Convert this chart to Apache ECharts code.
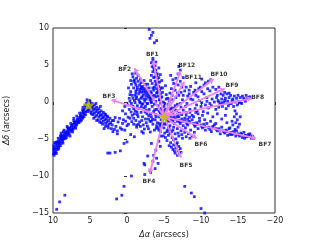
<!DOCTYPE html>
<html><head><meta charset="utf-8">
<script src="https://cdn.jsdelivr.net/npm/echarts@6/dist/echarts.min.js"></script>
<style>html,body{margin:0;padding:0;background:#fff}#c{width:320px;height:240px}</style>
</head><body><div id="c"></div>
<script>
const xTicks = [10, 5, 0, -5, -10, -15, -20];
const yTicks = [-15, -10, -5, 0, 5, 10];

const leftArm = [[9.9,-6.6],[9.8,-6.2],[9.9,-5.9],[9.7,-6.4],[9.6,-5.8],[9.5,-6.1],[9.4,-5.6],[9.3,-5.3],[9.5,-5.4],[9.2,-5.7],[9.1,-5.0],[9.0,-5.3],[8.9,-4.8],[8.8,-5.1],[8.7,-4.6],[8.6,-4.9],[8.5,-4.3],[8.4,-4.6],[8.3,-4.1],[8.2,-4.4],[8.1,-3.9],[8.0,-4.2],[7.9,-3.7],[7.8,-4.0],[7.7,-3.5],[7.6,-3.8],[7.5,-3.3],[7.4,-3.6],[7.3,-3.0],[7.2,-3.4],[7.1,-2.8],[7.0,-3.1],[6.9,-2.6],[6.8,-2.9],[6.7,-2.3],[6.6,-2.7],[6.5,-2.1],[6.4,-2.4],[6.3,-1.8],[6.2,-2.1],[6.1,-1.5],[6.0,-1.9],[5.9,-1.2],[5.8,-1.6],[5.7,-0.9],[5.6,-1.3],[5.5,-0.6],[5.4,-1.0],[5.3,0.0],[5.1,0.2],[5.5,-0.2],[9.8,-6.9],[9.6,-6.7],[8.9,-4.5],[8.0,-3.5],[7.2,-2.5],[9.0,-5.9],[8.3,-4.9],[7.7,-4.6],[9.95,-7.0]];
const leftArm2 = [[9.7,-6.9],[9.4,-6.4],[9.2,-6.1],[8.9,-5.6],[8.7,-5.3],[8.5,-5.0],[8.2,-4.8],[8.0,-4.5],[7.8,-4.3],[7.5,-3.9],[7.3,-3.7],[7.0,-3.4],[6.8,-3.1],[6.5,-2.8],[6.3,-2.6],[6.0,-2.2],[5.8,-2.0],[5.6,-1.7],[5.3,-1.3],[9.9,-6.3],[9.6,-5.5],[9.3,-4.9],[8.9,-4.2],[8.5,-3.8],[8.1,-3.3],[7.6,-2.9],[7.2,-2.2],[6.8,-1.9],[6.4,-1.5],[6.0,-1.1],[5.7,-0.5],[5.4,0.3],[5.0,0.1],[9.0,-4.6],[9.8,-5.5],[8.6,-4.0]];
const leftArm3 = [[9.85,-7.2],[9.55,-6.95],[9.35,-5.95],[9.15,-5.45],[8.75,-4.95],[8.45,-4.55],[8.15,-4.15],[7.85,-3.55],[7.45,-3.15],[7.05,-2.75],[6.65,-2.45],[6.25,-1.95],[5.85,-1.45],[5.55,-1.15],[6.95,-3.55],[7.35,-4.05],[8.65,-5.55],[9.25,-6.35],[6.15,-2.45],[5.95,-0.75]];
const leftBlob = [[5.0,-0.5],[4.8,-0.8],[4.9,-0.3],[4.6,-0.6],[4.5,-1.0],[4.7,-1.2],[4.3,-0.9],[4.2,-1.3],[4.4,-1.5],[4.0,-1.1],[3.9,-1.5],[4.1,-1.8],[3.7,-1.4],[3.6,-1.8],[3.8,-2.0],[3.4,-1.7],[3.3,-2.1],[3.5,-2.3],[3.1,-2.0],[3.0,-2.4],[3.2,-2.6],[2.8,-2.3],[2.7,-2.7],[2.9,-2.9],[2.5,-2.5],[2.4,-3.0],[2.6,-3.2],[2.2,-2.8],[2.0,-3.1],[5.2,-0.9],[4.9,-1.4],[4.6,-1.7],[4.3,-2.0],[3.9,-2.4],[3.5,-2.8],[3.0,-1.6],[2.7,-1.9],[1.8,-2.5],[1.5,-3.3],[1.2,-2.7],[0.9,-3.5],[0.6,-2.9],[0.3,-3.8],[1.7,-3.7],[0.0,-3.2],[2.1,-3.6]];
const leftBlob2 = [[4.7,-0.2],[4.4,-0.4],[4.1,-0.7],[3.8,-0.9],[3.5,-1.2],[3.2,-1.4],[2.9,-1.7],[2.6,-2.0],[2.3,-2.2],[2.0,-2.5],[4.8,-1.6],[4.5,-2.2],[4.1,-2.5],[3.7,-2.7],[3.3,-3.0],[2.9,-3.3],[2.5,-3.5],[5.1,-1.1],[4.2,-0.2],[3.6,-0.6],[1.6,-2.1],[1.0,-2.2],[0.7,-3.7],[1.3,-3.9],[1.9,-4.0],[0.2,-2.6],[3.1,-3.6]];
const bf2Cluster = [[-0.8,3.4],[-1.0,3.0],[-1.3,3.2],[-1.1,2.6],[-1.5,2.8],[-1.7,2.3],[-1.4,2.0],[-1.9,2.6],[-2.1,2.1],[-1.8,1.7],[-2.3,1.8],[-2.0,1.3],[-2.5,1.5],[-2.7,1.1],[-2.2,0.9],[-2.9,0.7],[-2.6,0.4],[-3.1,0.3],[-2.4,0.1],[-3.3,-0.1],[-1.2,1.5],[-0.9,1.9],[-1.6,1.1],[-1.3,0.7],[-0.7,0.9],[-1.9,0.5],[-1.0,0.2],[-0.5,1.4],[-2.8,2.4],[-3.0,1.9],[-3.2,1.4],[-0.6,2.4],[-1.5,3.6],[-2.3,2.9],[-3.4,0.8],[-0.3,0.5],[-0.1,-0.4],[-0.6,-0.2],[-1.4,-0.5],[-2.0,-0.3]];
const bf2Cluster2 = [[-0.9,2.8],[-1.2,2.3],[-1.4,1.7],[-1.7,1.4],[-2.0,1.8],[-2.2,1.5],[-2.4,1.2],[-2.6,0.8],[-2.8,1.4],[-2.0,0.7],[-1.6,0.3],[-1.1,0.9],[-0.8,0.5],[-0.4,1.0],[-0.2,1.9],[-0.5,2.9],[-1.8,3.1],[-2.5,2.4],[-3.0,1.0],[-3.2,0.5],[-2.7,-0.2],[-1.8,-0.1],[-1.2,1.2],[-1.9,2.0],[-2.6,1.9],[-3.5,1.9],[-0.7,3.8],[-1.1,3.9]];
const bf1Streak = [[-3.5,5.6],[-3.6,5.2],[-3.4,4.8],[-3.8,4.9],[-3.7,4.4],[-3.5,4.1],[-3.9,3.9],[-4.0,3.5],[-3.6,3.3],[-4.1,3.1],[-3.8,2.8],[-4.2,2.6],[-3.9,2.3],[-4.3,2.1],[-4.0,1.8],[-4.4,1.6],[-4.1,1.3],[-4.5,1.1],[-4.2,0.8],[-4.6,0.6],[-3.3,3.6],[-3.4,2.5],[-3.6,1.6],[-3.7,0.9],[-4.7,2.9],[-4.8,1.9],[-4.5,3.7],[-3.9,5.4],[-4.3,4.6],[-3.3,1.2],[-3.5,0.4]];
const bf1Streak2 = [[-3.6,4.6],[-3.9,4.3],[-4.1,3.8],[-3.8,3.4],[-4.3,3.3],[-4.0,2.5],[-4.4,2.7],[-3.7,2.0],[-4.6,1.9],[-4.2,1.5],[-4.8,1.3],[-4.4,0.3],[-3.9,0.7],[-3.2,2.9],[-3.5,5.9],[-3.3,5.3]];
const topSparse = [[-3.0,9.8],[-3.5,9.4],[-3.3,9.0],[-3.1,8.6],[-4.0,8.3],[-3.7,8.0]];
const nneStreaks = [[-5.5,0.5],[-5.8,1.2],[-6.0,1.8],[-6.3,2.5],[-6.6,3.2],[-6.9,3.8],[-7.2,4.3],[-5.7,0.0],[-6.1,0.9],[-6.5,1.6],[-6.9,2.3],[-7.2,2.8],[-7.6,3.3],[-5.3,1.0],[-6.2,3.0],[-7.0,4.8],[-6.8,1.2],[-7.4,2.0],[-5.2,2.2],[-5.9,3.6]];
const neStreaks = [[-6.0,-0.8],[-6.8,-0.3],[-7.5,0.3],[-8.2,0.8],[-9.0,1.3],[-9.7,1.8],[-10.4,2.3],[-11.0,2.8],[-6.5,-1.1],[-7.3,-0.7],[-8.1,-0.2],[-8.9,0.3],[-9.6,0.7],[-10.4,1.1],[-11.2,1.5],[-12.0,1.7],[-7.8,1.5],[-8.6,2.1],[-9.3,2.6],[-10.1,3.1],[-6.2,0.3],[-7.0,0.9],[-8.4,1.6],[-9.8,0.2],[-10.8,0.6]];
const neStreaks2 = [[-7.6,0.9],[-8.4,1.1],[-9.2,1.6],[-9.9,2.0],[-10.6,2.6],[-11.3,3.0],[-8.6,0.4],[-9.3,0.9],[-10.1,1.4],[-10.9,1.8],[-11.6,2.0],[-12.4,2.0],[-7.3,1.3],[-8.0,2.0]];
const bf8Band = [[-8.5,-1.0],[-9.2,-0.9],[-10.0,-0.6],[-10.6,-0.4],[-11.2,-0.2],[-11.8,0.0],[-12.3,0.2],[-12.8,0.4],[-13.3,0.5],[-13.8,0.6],[-14.3,0.4],[-14.8,0.5],[-15.3,0.6],[-15.8,0.5],[-16.3,0.6],[-12.6,-0.3],[-13.1,-0.1],[-13.6,0.1],[-14.1,-0.2],[-14.6,0.0],[-15.1,0.1],[-13.0,0.9],[-13.5,1.1],[-14.0,0.9],[-12.1,0.6],[-11.5,0.4],[-12.9,-0.6],[-13.7,-0.5],[-14.4,-0.6],[-15.5,-0.2],[-16.0,0.1],[-11.0,-0.8],[-12.0,-1.0],[-10.3,-1.3],[-9.6,-1.6],[-12.4,-0.7],[-14.9,-0.4],[-13.4,-0.9]];
const bf8Band2 = [[-12.2,0.9],[-12.7,1.1],[-13.2,1.3],[-13.8,1.2],[-14.5,0.8],[-15.0,0.9],[-15.6,0.8],[-16.1,0.9],[-16.6,0.7],[-12.4,0.0],[-13.9,-0.2],[-14.2,0.2],[-15.3,-0.1],[-15.8,0.3],[-11.4,-0.5],[-10.8,0.1],[-10.1,-0.1],[-9.4,-0.4],[-13.2,0.2],[-12.8,-0.1]];
const eastStreak = [[-14.6,-1.2],[-14.8,-1.6],[-14.5,-2.0],[-14.9,-2.4],[-14.7,-2.8],[-14.3,-3.1],[-15.0,-3.4],[-14.6,-3.7],[-15.2,-3.0],[-14.2,-2.6],[-15.3,-2.0],[-13.9,-3.5]];
const bf7Band = [[-5.5,-2.2],[-6.0,-2.3],[-6.5,-2.3],[-7.0,-2.5],[-7.5,-2.6],[-8.0,-2.7],[-8.5,-2.8],[-9.0,-2.9],[-9.5,-3.0],[-10.0,-3.1],[-10.5,-3.3],[-11.0,-3.4],[-11.5,-3.5],[-12.0,-3.6],[-12.5,-3.8],[-13.0,-3.9],[-13.5,-4.0],[-14.0,-4.1],[-14.5,-4.2],[-15.0,-4.3],[-15.5,-4.4],[-16.0,-4.5],[-16.5,-4.6],[-17.0,-4.7],[-6.2,-2.7],[-7.2,-2.9],[-8.2,-3.1],[-9.2,-3.3],[-10.2,-3.5],[-11.2,-3.7],[-12.2,-3.9],[-13.2,-4.2],[-14.2,-4.4],[-15.2,-4.6],[-16.2,-4.7],[-16.8,-4.9],[-6.8,-2.0],[-7.8,-2.2],[-8.8,-2.4],[-9.8,-2.6],[-10.8,-2.9],[-11.8,-3.1],[-12.8,-3.4],[-13.8,-3.6],[-14.8,-3.9],[-15.8,-4.1],[-16.6,-4.3],[-11.4,-4.0],[-12.6,-4.3],[-13.6,-4.5],[-15.6,-4.8],[-10.6,-3.8],[-9.6,-3.6]];
const bf7Band2 = [[-7.1,-2.7],[-8.1,-2.9],[-9.1,-3.1],[-10.1,-3.3],[-11.1,-3.5],[-12.1,-3.7],[-13.1,-4.0],[-14.1,-4.2],[-15.1,-4.4],[-16.1,-4.6],[-17.1,-4.9],[-16.4,-4.4],[-15.4,-4.2],[-14.4,-4.0],[-13.4,-3.8],[-12.4,-3.6],[-11.6,-3.3],[-10.4,-3.0],[-9.4,-2.8],[-8.4,-2.6],[-16.9,-4.6],[-15.9,-4.9],[-14.7,-4.6],[-13.9,-4.4]];
const southCloud = [[-4.8,-2.8],[-5.3,-3.0],[-5.8,-3.2],[-6.3,-3.4],[-6.8,-3.6],[-7.3,-3.9],[-7.8,-4.1],[-8.3,-4.3],[-8.8,-4.6],[-5.0,-3.5],[-5.5,-3.8],[-6.0,-4.0],[-6.5,-4.3],[-7.0,-4.6],[-7.5,-4.9],[-4.6,-3.3],[-5.1,-4.2],[-5.6,-4.5],[-6.1,-4.8],[-6.6,-5.0],[-5.4,-5.2],[-5.9,-5.5],[-6.3,-5.8],[-6.6,-6.2],[-6.9,-6.6],[-7.1,-7.0],[-6.2,-6.4],[-6.5,-6.9],[-5.7,-5.9],[-6.8,-5.5],[-7.2,-6.3],[-5.2,-4.8],[-4.5,-4.0],[-4.2,-3.5],[-7.9,-3.5],[-8.6,-3.8],[-9.1,-4.1]];
const southCloud2 = [[-5.0,-3.0],[-5.7,-3.6],[-6.2,-3.8],[-6.9,-4.2],[-7.4,-4.4],[-8.0,-4.7],[-8.5,-4.9],[-5.8,-4.2],[-6.3,-5.1],[-6.0,-6.1],[-6.7,-5.7],[-7.0,-6.0],[-6.4,-6.6],[-6.8,-7.2],[-7.3,-6.8],[-5.4,-4.0],[-4.9,-4.6],[-4.4,-2.9]];
const centerCore = [[-4.5,-1.5],[-4.8,-1.2],[-5.2,-1.4],[-5.5,-1.7],[-4.3,-2.0],[-4.6,-2.4],[-5.4,-2.5],[-5.8,-1.9],[-3.9,-1.7],[-4.0,-1.0],[-3.6,-1.3],[-3.3,-2.0],[-3.8,-2.4],[-4.2,-0.5],[-5.0,-0.6],[-5.6,-0.9],[-6.2,-1.5],[-6.0,-2.0],[-3.0,-1.0],[-2.7,-1.6],[-3.1,-2.6],[-2.5,-2.3],[-2.3,-0.8],[-1.9,-1.4],[-1.5,-2.0],[-1.1,-1.2],[-0.7,-1.8],[-2.8,-0.2],[-4.9,0.0],[-5.3,0.4],[-4.4,0.3],[-3.9,0.1],[-6.5,-0.5],[-3.5,-3.0],[-2.2,-3.1],[-4.0,-3.2],[-1.7,-2.7],[-1.2,-2.5],[-0.4,-2.2],[0.2,-1.6],[0.5,-2.4],[-2.9,-3.6],[-3.7,-3.8],[-2.0,-4.0],[-1.3,-3.4]];
const centerCore2 = [[-0.3,-1.0],[-0.8,-0.6],[-1.6,-0.9],[-2.1,-2.0],[-2.6,-1.1],[-3.4,-0.6],[-3.2,-1.6],[-4.1,-2.8],[-4.7,-3.0],[-5.1,-2.2],[-5.7,-2.6],[-6.4,-2.0],[-6.7,-1.2],[-7.1,-1.5],[-7.6,-1.1],[-7.0,-2.0],[-5.9,-1.0],[-5.1,-0.2],[-4.6,-0.9],[-3.7,-0.3],[-2.5,-0.6],[-1.4,-1.7],[-0.9,-2.2],[-0.2,-3.0],[-0.9,-3.0],[-1.8,-3.3],[-2.6,-2.8],[-3.3,-2.6],[-4.3,-3.8],[-5.6,-3.4],[-6.4,-2.9],[-7.6,-3.2],[-8.2,-2.3],[-8.5,-1.4],[-7.9,-0.6],[-7.2,-0.2],[-6.6,0.6],[-5.8,0.3],[-4.7,0.7],[-4.0,1.2],[-3.1,0.6],[-2.3,0.4],[-1.7,0.0],[-0.9,-0.9],[0.3,-0.6],[0.6,-1.2],[-0.4,0.1],[-1.1,-0.1],[-2.9,-2.3],[-3.9,-2.0],[-4.9,-1.8],[-5.3,-1.0],[-6.0,-1.4],[-6.8,-2.6],[-7.4,-2.3],[-8.0,-1.8],[-9.0,-2.0],[-9.3,-1.4],[-2.0,-2.5],[-1.0,-1.6]];
const centerCore3 = [[-4.35,-1.25],[-4.75,-1.75],[-5.15,-1.05],[-5.45,-2.15],[-3.75,-1.05],[-3.45,-2.35],[-2.95,-1.85],[-2.45,-1.35],[-1.95,-0.65],[-1.35,-1.35],[-0.55,-1.35],[-0.15,-2.05],[-2.75,-3.25],[-3.95,-3.55],[-4.45,-3.15],[-5.25,-2.85],[-6.15,-2.45],[-6.85,-1.65],[-7.75,-2.55],[-8.45,-2.05],[-6.35,-0.85],[-5.55,-0.35],[-4.55,-0.15],[-3.25,0.05],[-2.15,-0.25],[-1.25,0.45],[-0.65,-2.65],[-1.55,-3.05],[-2.35,-3.65],[-3.15,-4.05]];
const midGap = [[-9.5,-1.2],[-10.2,-1.8],[-10.9,-1.5],[-11.6,-2.0],[-12.2,-1.6],[-9.8,-2.2],[-11.3,-2.6],[-12.8,-2.3],[-13.3,-1.8],[-10.5,-2.4],[-8.8,-1.8],[-8.0,-1.4],[-7.4,-1.7],[-13.5,-2.8],[-12.0,-2.9]];
const bf4Line = [[-3.2,-9.5],[-3.1,-9.3],[-3.6,-7.2],[-4.0,-7.6],[-4.2,-8.3],[-4.5,-6.0],[-3.8,-9.0],[-2.4,-8.5],[-2.3,-8.3],[-2.4,-9.8],[-4.3,-5.3],[-3.9,-6.5],[-3.5,-8.0],[-2.8,-7.3],[-4.6,-4.6],[-3.3,-5.6],[-2.2,-4.2],[-1.3,-3.1]];
const lowerSparse = [[2.3,-6.9],[2.6,-6.9],[1.6,-6.8],[0.9,-6.6],[0.4,-5.6],[0.0,-5.4],[-0.6,-10.0],[0.4,-11.4],[0.7,-12.6],[1.4,-13.1],[8.4,-12.6],[9.1,-13.5],[9.5,-14.5],[-7.8,-11.4],[-8.7,-12.3],[-9.1,-12.8],[-10.0,-14.4],[-10.5,-15.0],[-0.5,-4.4],[-1.0,-4.7],[1.3,-4.3]];

const stars = [[5.2,-0.4],[-5.0,-2.0]];
const arrowOrigin = [-5.0, -2.0];
const arrowNames = ['BF1','BF2','BF3','BF4','BF5','BF6','BF7','BF8','BF9','BF10','BF11','BF12'];
const arrowTips = [[-3.55,5.6],[-1.0,4.55],[2.1,0.3],[-3.1,-9.6],[-7.3,-7.5],[-9.4,-4.9],[-17.4,-4.9],[-16.85,0.5],[-13.2,1.8],[-11.7,3.1],[-7.75,2.75],[-7.25,4.2]];
const labelPos = [[-3.42,6.4],[0.31,4.42],[2.43,0.72],[-2.97,-10.77],[-7.97,-8.51],[-10.0,-5.68],[-18.65,-5.68],[-17.66,0.58],[-14.19,2.2],[-12.43,3.74],[-8.96,3.28],[-8.07,5.0]];

const points = [].concat(leftArm, leftArm2, leftArm3, leftBlob, leftBlob2, bf2Cluster, bf2Cluster2, bf1Streak, bf1Streak2, topSparse, nneStreaks, neStreaks, neStreaks2, bf8Band, bf8Band2, eastStreak, bf7Band, bf7Band2, southCloud, southCloud2, centerCore, centerCore2, centerCore3, midGap, bf4Line, lowerSparse);
const fmt = v => String(v).replace('-', '\u2212');
const starPath = 'path://M50,0 L61,35 L98,35 L68,57 L79,91 L50,70 L21,91 L32,57 L2,35 L39,35 Z';
const font = 'DejaVu Sans';

const chart = echarts.init(document.getElementById('c'), null, {renderer: 'canvas'});
chart.setOption({
  animation: false,
  backgroundColor: '#fff',
  grid: {left: 53, right: 45, top: 28, bottom: 27, outerBoundsMode: 'none', containLabel: false, show: true, borderColor: '#333', borderWidth: 1, backgroundColor: 'transparent'},
  xAxis: {
    type: 'value', min: -20, max: 10, interval: 5, inverse: true,
    name: '{i|\u0394\u03b1} (arcsecs)', nameLocation: 'middle', nameGap: 18,
    nameTextStyle: {fontFamily: font, fontSize: 8, color: '#222', rich: {i: {fontStyle: 'italic', fontFamily: font, fontSize: 8, color: '#222'}}},
    axisLine: {show: false}, splitLine: {show: false},
    axisTick: {show: true, length: 3, lineStyle: {color: '#333'}},
    axisLabel: {fontFamily: font, fontSize: 8, color: '#222', margin: 4, formatter: fmt}
  },
  yAxis: {
    type: 'value', min: -15, max: 10, interval: 5,
    name: '{i|\u0394\u03b4} (arcsecs)', nameLocation: 'middle', nameGap: 42,
    nameTextStyle: {fontFamily: font, fontSize: 8, color: '#222', rich: {i: {fontStyle: 'italic', fontFamily: font, fontSize: 8, color: '#222'}}},
    axisLine: {show: false}, splitLine: {show: false},
    axisTick: {show: true, length: 3, lineStyle: {color: '#333'}},
    axisLabel: {fontFamily: font, fontSize: 8, color: '#222', margin: 4, formatter: fmt}
  },
  series: [
    {type: 'scatter', data: points, symbol: 'rect', symbolSize: 2.8, itemStyle: {color: '#0000ff'}, z: 2, silent: true, large: false},
    {type: 'lines', coordinateSystem: 'cartesian2d', z: 3, silent: true,
     symbol: ['none', 'arrow'], symbolSize: 5,
     lineStyle: {color: '#ee82ee', width: 1.8, opacity: 1, curveness: 0},
     data: arrowTips.map(t => ({coords: [arrowOrigin, t]}))},
    {type: 'scatter', data: stars, symbol: starPath, symbolSize: 13, itemStyle: {color: '#bfbf00'}, z: 4, silent: true},
    {type: 'scatter', z: 5, silent: true, symbolSize: 0,
     data: arrowNames.map((n, i) => ({name: n, value: labelPos[i]})),
     label: {show: true, position: 'inside', formatter: p => p.name, fontFamily: font, fontSize: 6, fontWeight: 'bold', color: '#000'}}
  ]
});
</script></body></html>
